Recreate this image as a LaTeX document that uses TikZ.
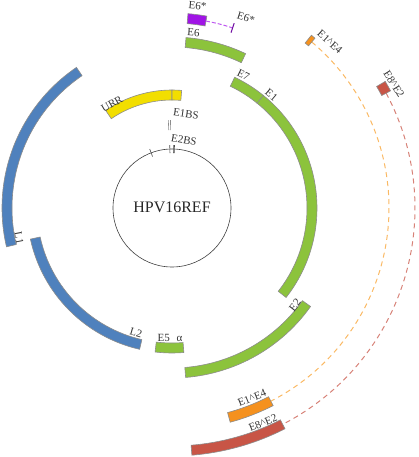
\documentclass[tikz,border=0pt]{standalone}
\usepackage{fontspec}
\setmainfont{Liberation Serif}
\definecolor{fgreen}{RGB}{140,195,60}
\definecolor{fblue}{RGB}{79,129,189}
\definecolor{fyellow}{RGB}{242,222,0}
\definecolor{fpurple}{RGB}{160,20,230}
\definecolor{fpurpled}{RGB}{190,90,240}
\definecolor{forange}{RGB}{245,145,30}
\definecolor{forangel}{RGB}{250,185,100}
\definecolor{fred}{RGB}{200,85,70}
\definecolor{fredl}{RGB}{215,130,120}
\definecolor{segline}{RGB}{140,140,140}
\newcommand{\ringseg}[5]{%
  \draw[seg,fill=#1] (#2:#5pt) arc[start angle=#2,end angle=#3,radius=#5pt]
    -- (#3:#4pt) arc[start angle=#3,end angle=#2,radius=#4pt] -- cycle;}
\begin{document}
\begin{tikzpicture}[x=1pt,y=1pt,
  seg/.style={draw=segline,line width=0.6pt},
  lbl/.style={font=\fontsize{11}{12}\selectfont,text=black!80,inner sep=0pt},
  tick/.style={draw=black!70,line width=0.6pt}]
\useasboundingbox (-172,-249) rectangle (246,208);
% central map
\draw[black!75,line width=0.6pt] (0,0) circle[radius=59pt];
\node[font=\fontsize{16}{18}\selectfont,text=black!85] (title) at (0,1) {HPV16REF};
% E2 binding sites on the circle
\foreach \a in {110.7,92.1,88.4,87.7} \draw[tick] (\a:55pt) -- (\a:63pt);
% E1 binding site
\draw[segline,line width=0.6pt] (91.0:78pt) -- (91.0:88pt);
\draw[segline,line width=0.6pt] (92.4:78pt) -- (92.4:88pt);
% URR
\ringseg{fyellow}{124.2}{90}{108}{118}
\ringseg{fyellow}{90}{85.3}{108}{118}
% inner ring
\ringseg{fgreen}{64.4}{50.9}{135}{145}
\ringseg{fgreen}{50.9}{-38.1}{135}{145}
\ringseg{fgreen}{-85.3}{-96.7}{135}{145}
\ringseg{fblue}{-102.9}{-167.6}{135}{145}
% outer ring
\ringseg{fgreen}{85.3}{64.5}{161}{171}
\ringseg{fgreen}{-35.4}{-85.4}{160}{170}
\ringseg{fblue}{-166.8}{-235.8}{160}{170}
% E6*
\ringseg{fpurple}{85.3}{79.7}{185}{195}
\draw[fpurpled,line width=1pt,dash pattern=on 4pt off 2pt] (79.7:190pt) arc[start angle=79.7,end angle=71.4,radius=190pt];
\draw[fpurple!70!black,line width=1pt] (71.4:185pt) -- (71.4:195pt);
% E1^E4
\draw[forangel,line width=1pt,dash pattern=on 5pt off 4pt] (49.9:217pt) arc[start angle=49.9,end angle=-62.9,radius=217pt];
\ringseg{forange}{51.1}{49.9}{212}{222}
\ringseg{forange}{-62.9}{-74.8}{212}{222}
% E8^E2
\draw[fredl,line width=1pt,dash pattern=on 5pt off 4pt] (28.2:243pt) arc[start angle=28.2,end angle=-62.9,radius=243pt];
\ringseg{fred}{30.7}{28.2}{238}{248}
\ringseg{fred}{-62.9}{-85.4}{238}{248}
% labels
\node[lbl,rotate=-5] (lE6sa) at (25.5,202) {E6*};
\node[lbl,rotate=-18] (lE6sb) at (74,190) {E6*};
\node[lbl,rotate=-4] (lE6) at (21.5,175.5) {E6};
\node[lbl,rotate=-26] (lE7) at (71.5,133) {E7};
\node[lbl,rotate=-40] (lE1) at (99.5,113) {E1};
\node[lbl,rotate=52] (lE2) at (123,-97) {E2};
\node[lbl] (lE5) at (-2,-130) {E5\hspace{0.6em}α};
\node[lbl,rotate=-16] (lL2) at (-36,-124.5) {L2};
\node[lbl,rotate=-79] (lL1) at (-153,-30) {L1};
\node[lbl,rotate=30] (lURR) at (-60,104) {URR};
\node[lbl,rotate=-8] (lE1BS) at (14,94) {E1BS};
\node[lbl,rotate=-10] (lE2BS) at (12,68) {E2BS};
\node[lbl,rotate=-42] (lE1E4a) at (158,166) {E1\textasciicircum E4};
\node[lbl,rotate=-58] (lE8E2a) at (222,124) {E8\textasciicircum E2};
\node[lbl,rotate=22] (lE1E4b) at (80,-190) {E1\textasciicircum E4};
\node[lbl,rotate=22] (lE8E2b) at (91,-215) {E8\textasciicircum E2};
\end{tikzpicture}
\end{document}
